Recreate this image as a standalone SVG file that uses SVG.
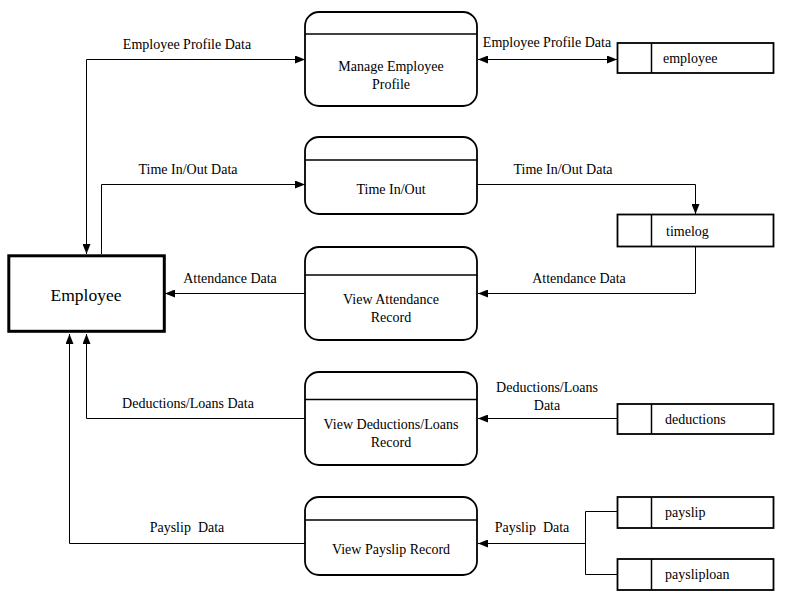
<svg xmlns="http://www.w3.org/2000/svg" width="787" height="599" viewBox="0 0 787 599">
<style>
text{font-family:"Liberation Serif","Times New Roman",serif;font-size:14px;fill:#000}
.c{text-anchor:middle}
.proc{fill:#fff;stroke:#000;stroke-width:1.8}
.div{stroke:#000;stroke-width:1.5}
.store{fill:#fff;stroke:#000;stroke-width:1.8}
.ln{fill:none;stroke:#000;stroke-width:1}
.ent{fill:#fff;stroke:#000;stroke-width:3}
</style>
<defs>
<marker id="ah" markerWidth="10" markerHeight="8" refX="10" refY="4" orient="auto" markerUnits="userSpaceOnUse">
<path d="M0,0 L10,4 L0,8 Z" fill="#000"/>
</marker>
<marker id="as" markerWidth="10" markerHeight="8" refX="0" refY="4" orient="auto" markerUnits="userSpaceOnUse">
<path d="M10,0 L0,4 L10,8 Z" fill="#000"/>
</marker>
</defs>
<rect width="787" height="599" fill="#fff"/>
<g id="connectors">
<path class="ln" d="M86.5,254 V59.5 H305" marker-start="url(#as)" marker-end="url(#ah)"/>
<path class="ln" d="M478,59.5 H617" marker-start="url(#as)" marker-end="url(#ah)"/>
<path class="ln" d="M101.5,254 V184.5 H305" marker-end="url(#ah)"/>
<path class="ln" d="M477,184.5 H695.5 V214" marker-end="url(#ah)"/>
<path class="ln" d="M695.5,247 V293.5 H478" marker-end="url(#ah)"/>
<path class="ln" d="M305,293.5 H165" marker-end="url(#ah)"/>
<path class="ln" d="M305,418.5 H86.5 V334" marker-end="url(#ah)"/>
<path class="ln" d="M617,418.5 H478" marker-end="url(#ah)"/>
<path class="ln" d="M305,543.5 H69.5 V334" marker-end="url(#ah)"/>
<path class="ln" d="M617,511.5 H585.5 V574.5 H617"/>
<path class="ln" d="M585.5,543.5 H478" marker-end="url(#ah)"/>
<text class="c" x="187" y="49">Employee Profile Data</text>
<text class="c" x="547" y="47">Employee Profile Data</text>
<text class="c" x="188" y="174">Time In/Out Data</text>
<text class="c" x="563" y="174">Time In/Out Data</text>
<text class="c" x="579" y="283">Attendance Data</text>
<text class="c" x="230" y="283">Attendance Data</text>
<text class="c" x="188" y="408">Deductions/Loans Data</text>
<text class="c" x="547" y="392">Deductions/Loans</text>
<text class="c" x="547" y="410">Data</text>
<text class="c" x="187" y="532" xml:space="preserve">Payslip  Data</text>
<text class="c" x="532" y="532" xml:space="preserve">Payslip  Data</text>
</g>
<g id="employee-entity">
<rect class="ent" x="8.8" y="255.8" width="155.5" height="75.5"/>
<text class="c" x="86" y="301" style="font-size:17.5px">Employee</text>
</g>
<g id="p-manage">
<rect class="proc" x="305" y="12" width="172" height="94" rx="14"/>
<line class="div" x1="305" y1="34" x2="477" y2="34"/>
<text class="c" x="391" y="71">Manage Employee</text>
<text class="c" x="391" y="89">Profile</text>
</g>
<g id="p-time">
<rect class="proc" x="305" y="137" width="172" height="77" rx="14"/>
<line class="div" x1="305" y1="160" x2="477" y2="160"/>
<text class="c" x="391" y="194">Time In/Out</text>
</g>
<g id="p-attendance">
<rect class="proc" x="305" y="247" width="172" height="93" rx="14"/>
<line class="div" x1="305" y1="275" x2="477" y2="275"/>
<text class="c" x="391" y="304">View Attendance</text>
<text class="c" x="391" y="322">Record</text>
</g>
<g id="p-deductions">
<rect class="proc" x="305" y="372" width="172" height="93" rx="14"/>
<line class="div" x1="305" y1="399.5" x2="477" y2="399.5"/>
<text class="c" x="391" y="429">View Deductions/Loans</text>
<text class="c" x="391" y="447">Record</text>
</g>
<g id="p-payslip">
<rect class="proc" x="305" y="497" width="172" height="78" rx="14"/>
<line class="div" x1="305" y1="520" x2="477" y2="520"/>
<text class="c" x="391" y="554">View Payslip Record</text>
</g>
<g id="ds-employee">
<rect class="store" x="617.5" y="43" width="156" height="30"/>
<line class="div" x1="651.5" y1="43" x2="651.5" y2="73"/>
<text x="663" y="63">employee</text>
</g>
<g id="ds-timelog">
<rect class="store" x="617.5" y="214.5" width="156" height="32"/>
<line class="div" x1="651.5" y1="214.5" x2="651.5" y2="246.5"/>
<text x="666" y="236">timelog</text>
</g>
<g id="ds-deductions">
<rect class="store" x="617.5" y="404" width="156" height="30"/>
<line class="div" x1="651.5" y1="404" x2="651.5" y2="434"/>
<text x="665" y="424">deductions</text>
</g>
<g id="ds-payslip">
<rect class="store" x="617.5" y="497" width="156" height="31"/>
<line class="div" x1="651.5" y1="497" x2="651.5" y2="528"/>
<text x="665" y="517">payslip</text>
</g>
<g id="ds-paysliploan">
<rect class="store" x="617.5" y="559" width="156" height="31"/>
<line class="div" x1="651.5" y1="559" x2="651.5" y2="590"/>
<text x="665" y="579">paysliploan</text>
</g>
</svg>
